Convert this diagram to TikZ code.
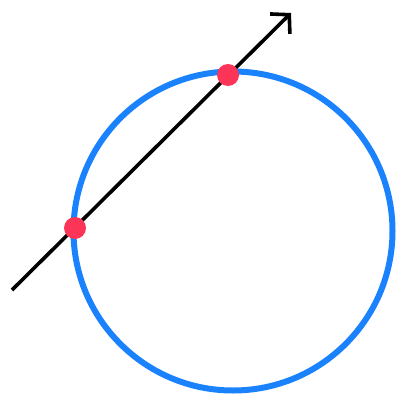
\documentclass[tikz,border=0pt]{standalone}
\usepackage{tikz}
\usetikzlibrary{arrows.meta}
\definecolor{ringblue}{RGB}{26,130,252}
\definecolor{dotred}{RGB}{252,52,88}

\begin{document}
\begin{tikzpicture}[x=1pt,y=-1pt,>={Straight Barb[length=13pt,width=28pt]},
  every node/.style={inner sep=0pt},
  hitdot/.style={circle,fill=dotred,minimum size=22pt}]
  \useasboundingbox (0,0) rectangle (404,404);
  % circle
  \draw[ringblue,line width=6pt] (233,231) circle[radius=159.5];
  % secant line
  \coordinate (start) at (12,290);
  \coordinate (tip) at (291,13);
  \draw[->,line width=3.6pt,miter limit=10] (start) -- (tip);
  % intersection points
  \node[hitdot] (p1) at (75,228) {};
  \node[hitdot] (p2) at (228,75) {};
\end{tikzpicture}
\end{document}
